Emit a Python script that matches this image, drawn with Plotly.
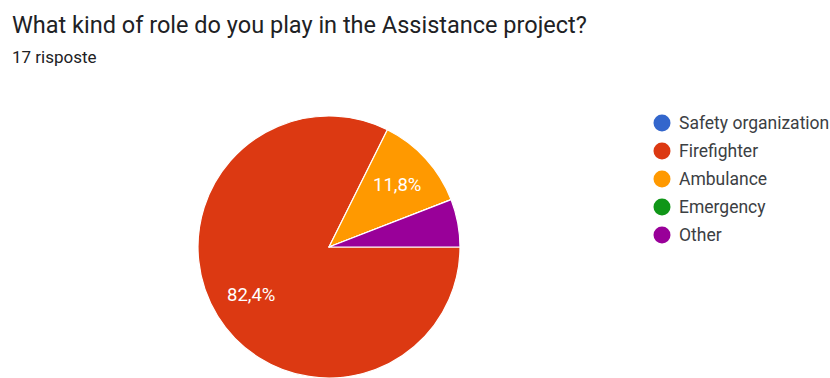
import math
import plotly.graph_objects as go

# Survey answers: "What kind of role do you play in the Assistance project?"
categories = ["Safety organization", "Firefighter", "Ambulance", "Emergency", "Other"]
counts = [0, 14, 2, 0, 1]
colors = ["#3366cc", "#dc3912", "#ff9900", "#109618", "#990099"]

title_text = "What kind of role do you play in the Assistance project?"
subtitle_text = "17 risposte"

W, H = 830, 378
total = sum(counts)

# Pie placement in pixels
cx, cy, r = 329, 247, 131
label_frac = 0.70      # slice labels sit at this fraction of the radius
min_label_pct = 8      # smaller slices stay unlabeled

fig = go.Figure()
fig.add_trace(go.Pie(
    labels=categories,
    values=counts,
    textinfo="none",
    marker=dict(colors=colors, line=dict(color="white", width=1.2)),
    sort=False,
    direction="clockwise",
    rotation=90,
    showlegend=False,
    hoverinfo="label+value+percent",
    domain=dict(
        x=[(cx - r) / W, (cx + r) / W],
        y=[1 - (cy + r) / H, 1 - (cy - r) / H],
    ),
))

annotations = []

# Percent labels (comma decimals) at the middle angle of each slice
start = 0.0  # degrees, measured clockwise from 3 o'clock
for c in counts:
    frac = c / total if total else 0
    sweep = frac * 360
    pct = frac * 100
    if pct >= min_label_pct:
        mid = math.radians(start + sweep / 2)
        px = cx + label_frac * r * math.cos(mid)
        py = cy + label_frac * r * math.sin(mid)
        annotations.append(dict(
            text=f"{pct:.1f}%".replace(".", ","),
            xref="paper", yref="paper",
            x=px / W, y=1 - py / H, xanchor="center", yanchor="middle",
            showarrow=False,
            font=dict(family="Roboto", size=18.5, color="white"),
        ))
    start += sweep

# Legend with round markers
shapes = []
lx, ly0, step, dot = 662, 123, 28, 8.5
for i, (name, col) in enumerate(zip(categories, colors)):
    y = ly0 + i * step
    shapes.append(dict(
        type="circle", xref="paper", yref="paper",
        x0=(lx - dot) / W, x1=(lx + dot) / W,
        y0=1 - (y + dot) / H, y1=1 - (y - dot) / H,
        fillcolor=col, line=dict(width=0),
    ))
    annotations.append(dict(
        text=name, xref="paper", yref="paper",
        x=677 / W, y=1 - y / H, xanchor="left", yanchor="middle",
        showarrow=False,
        font=dict(family="Roboto", size=17.5, color="#3c4043"),
    ))

annotations.append(dict(
    text=title_text, xref="paper", yref="paper",
    x=10 / W, y=1 - 25 / H, xanchor="left", yanchor="middle", showarrow=False,
    font=dict(family="Roboto", size=23.5, color="#202124"),
))
annotations.append(dict(
    text=subtitle_text, xref="paper", yref="paper",
    x=10 / W, y=1 - 57 / H, xanchor="left", yanchor="middle", showarrow=False,
    font=dict(family="Roboto", size=17, color="#202124"),
))

fig.update_layout(
    width=W, height=H,
    margin=dict(l=0, r=0, t=0, b=0),
    paper_bgcolor="white",
    plot_bgcolor="white",
    shapes=shapes,
    annotations=annotations,
)

fig.write_html("out.html")
